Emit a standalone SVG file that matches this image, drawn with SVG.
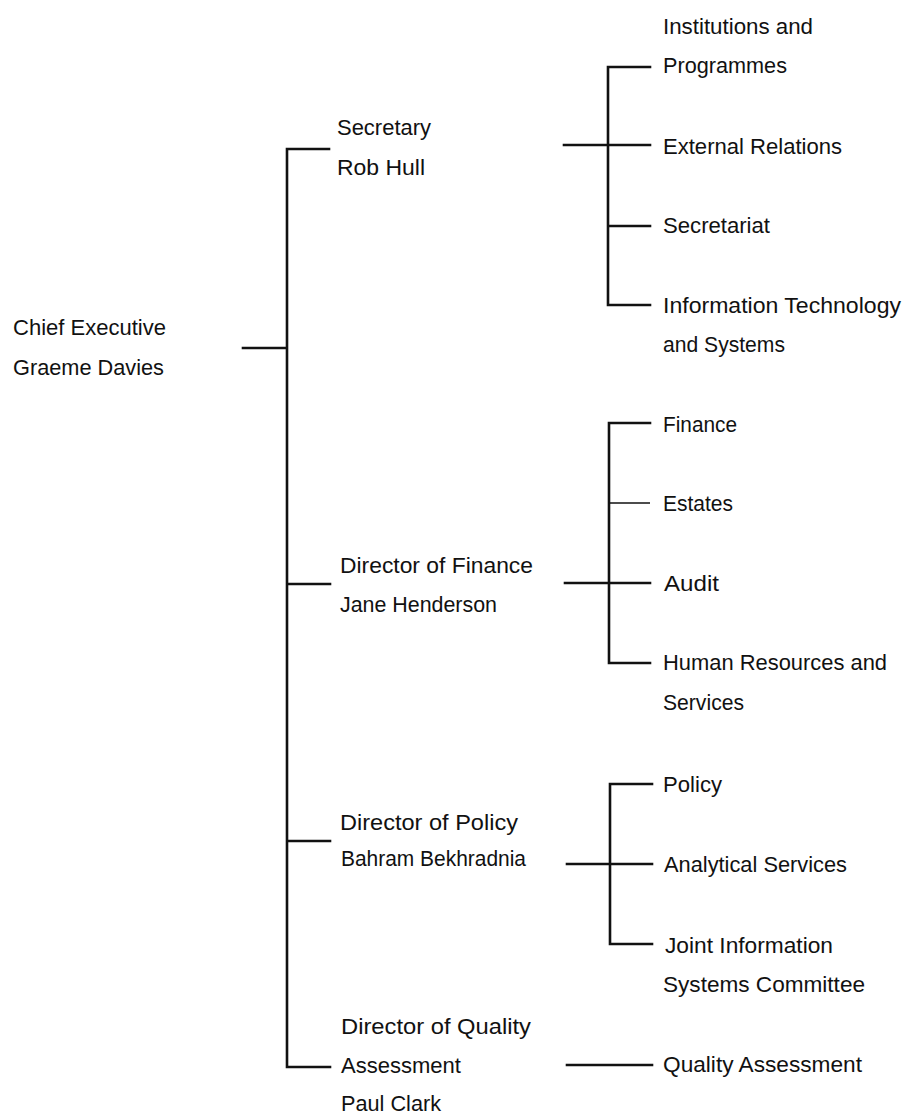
<svg xmlns="http://www.w3.org/2000/svg" width="904" height="1115" viewBox="0 0 904 1115">
<style>
text{font-family:"Liberation Sans",Arial,sans-serif;font-size:22px;fill:#111}
.l{stroke:#111;stroke-width:2.6;fill:none;stroke-linecap:square}
.t{stroke:#111;stroke-width:1.3;fill:none}
</style>
<rect width="904" height="1115" fill="#fff"/>
<g id="connectors">
<path class="l" d="M243 348H287M287 149V1067M287 149H329M287 584H330M287 841H330M287 1067H330"/>
<path class="l" d="M564 145H650M608 67V305M608 67H650M608 226H650M608 305H650"/>
<path class="l" d="M565 583H650M609 423V663M609 423H650M609 663H650"/>
<path class="t" d="M609 503H650"/>
<path class="l" d="M567 864H652M610 784V944M610 784H652M610 944H652"/>
<path class="l" d="M567 1065H652"/>
</g>
<g id="chief"><text x="13" y="335" textLength="153" lengthAdjust="spacingAndGlyphs">Chief Executive</text><text x="13" y="375" textLength="151" lengthAdjust="spacingAndGlyphs">Graeme Davies</text></g>
<g id="secretary"><text x="337" y="135" textLength="94" lengthAdjust="spacingAndGlyphs">Secretary</text><text x="337" y="175" textLength="88" lengthAdjust="spacingAndGlyphs">Rob Hull</text></g>
<g id="finance-director"><text x="340" y="573" textLength="193" lengthAdjust="spacingAndGlyphs">Director of Finance</text><text x="340" y="612" textLength="157" lengthAdjust="spacingAndGlyphs">Jane Henderson</text></g>
<g id="policy-director"><text x="340" y="830" textLength="178" lengthAdjust="spacingAndGlyphs">Director of Policy</text><text x="341" y="866" textLength="185" lengthAdjust="spacingAndGlyphs">Bahram Bekhradnia</text></g>
<g id="quality-director"><text x="341" y="1034" textLength="190" lengthAdjust="spacingAndGlyphs">Director of Quality</text><text x="341" y="1073" textLength="120" lengthAdjust="spacingAndGlyphs">Assessment</text><text x="341" y="1111" textLength="100" lengthAdjust="spacingAndGlyphs">Paul Clark</text></g>
<g id="institutions"><text x="663" y="34" textLength="150" lengthAdjust="spacingAndGlyphs">Institutions and</text><text x="663" y="73" textLength="124" lengthAdjust="spacingAndGlyphs">Programmes</text></g>
<g id="external"><text x="663" y="154" textLength="179" lengthAdjust="spacingAndGlyphs">External Relations</text></g>
<g id="secretariat"><text x="663" y="233" textLength="107" lengthAdjust="spacingAndGlyphs">Secretariat</text></g>
<g id="it"><text x="663" y="313" textLength="238" lengthAdjust="spacingAndGlyphs">Information Technology</text><text x="663" y="352" textLength="122" lengthAdjust="spacingAndGlyphs">and Systems</text></g>
<g id="finance"><text x="663" y="432" textLength="74" lengthAdjust="spacingAndGlyphs">Finance</text></g>
<g id="estates"><text x="663" y="511" textLength="70" lengthAdjust="spacingAndGlyphs">Estates</text></g>
<g id="audit"><text x="664" y="591" textLength="55" lengthAdjust="spacingAndGlyphs">Audit</text></g>
<g id="hr"><text x="663" y="670" textLength="224" lengthAdjust="spacingAndGlyphs">Human Resources and</text><text x="663" y="710" textLength="81" lengthAdjust="spacingAndGlyphs">Services</text></g>
<g id="policy"><text x="663" y="792" textLength="59" lengthAdjust="spacingAndGlyphs">Policy</text></g>
<g id="analytical"><text x="664" y="872" textLength="183" lengthAdjust="spacingAndGlyphs">Analytical Services</text></g>
<g id="jisc"><text x="665" y="953" textLength="168" lengthAdjust="spacingAndGlyphs">Joint Information</text><text x="663" y="992" textLength="202" lengthAdjust="spacingAndGlyphs">Systems Committee</text></g>
<g id="quality"><text x="663" y="1072" textLength="199" lengthAdjust="spacingAndGlyphs">Quality Assessment</text></g>
</svg>
